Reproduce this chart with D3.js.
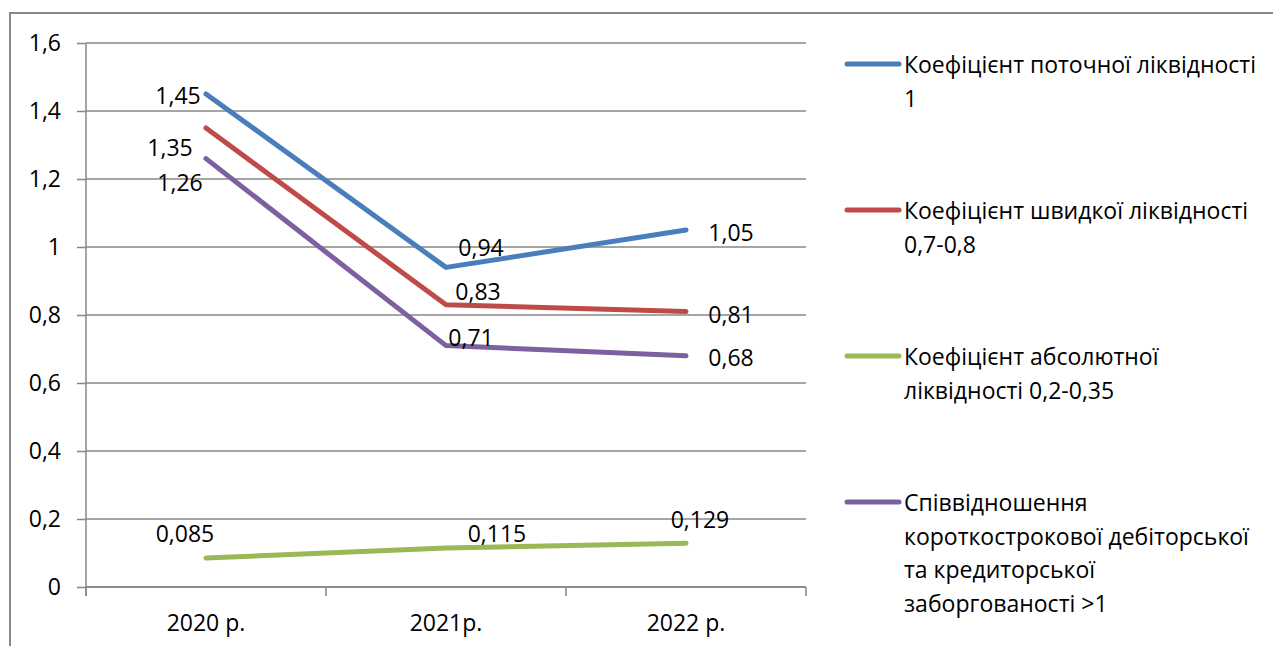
<!DOCTYPE html>
<html>
<head>
<meta charset="utf-8">
<script src="https://cdn.jsdelivr.net/npm/d3@7"></script>
<style>
  html, body { margin: 0; padding: 0; background: #fff; }
  svg { display: block; }
  text { font-family: "Open Sans", "Noto Sans", sans-serif; fill: #000; }
</style>
</head>
<body>
<svg id="chart" width="1273" height="646"></svg>
<script>
// Years on the horizontal axis
const categories = ["2020 р.", "2021р.", "2022 р."];

// Liquidity ratios per year
const currentRatio  = [1.45, 0.94, 1.05];
const quickRatio    = [1.35, 0.83, 0.81];
const absoluteRatio = [0.085, 0.115, 0.129];
const receivablesToPayables = [1.26, 0.71, 0.68];

// Value labels as printed
const currentLabels  = ["1,45", "0,94", "1,05"];
const quickLabels    = ["1,35", "0,83", "0,81"];
const absoluteLabels = ["0,085", "0,115", "0,129"];
const receivLabels   = ["1,26", "0,71", "0,68"];

// Y axis ticks
const yTicks = [0, 0.2, 0.4, 0.6, 0.8, 1, 1.2, 1.4, 1.6];

// Legend captions, broken into lines
const legendNames = [
  ["Коефіцієнт поточної ліквідності", "1"],
  ["Коефіцієнт швидкої ліквідності", "0,7-0,8"],
  ["Коефіцієнт абсолютної", "ліквідності 0,2-0,35"],
  ["Співвідношення", "короткострокової дебіторської", "та кредиторської", "заборгованості >1"]
];

const colors = ["#4A7EBB", "#BE4B48", "#98B954", "#7D60A0"];

// Label offsets from each point (layout only)
const labelOffsets = [
  [[-28, 1], [35, -20], [45, 2]],
  [[-36, 19], [32, -14], [45, 2]],
  [[-21, -25], [51, -15], [14, -24]],
  [[-26, 23], [25, -9], [45, 1]]
];

const series = [
  { values: currentRatio, labels: currentLabels },
  { values: quickRatio, labels: quickLabels },
  { values: absoluteRatio, labels: absoluteLabels },
  { values: receivablesToPayables, labels: receivLabels }
];

const svg = d3.select("#chart");
const FS = 23;
const gridColor = "#878787";

const plot = { left: 86, right: 806, top: 43, bottom: 587 };

const x = d3.scaleBand().domain(categories).range([plot.left, plot.right]);
const cx = c => x(c) + x.bandwidth() / 2;
const y = d3.scaleLinear().domain([0, 1.6]).range([plot.bottom, plot.top]);
const fmt = d3.formatLocale({ decimal: ",", thousands: " ", grouping: [3], currency: ["", ""] }).format("~g");

// Outer chart border (partially visible)
svg.append("path")
  .attr("d", `M10,646 L10,13 L1273,13`)
  .attr("fill", "none").attr("stroke", gridColor).attr("stroke-width", 2);

// Horizontal gridlines
svg.append("g").selectAll("line").data(yTicks).join("line")
  .attr("x1", plot.left).attr("x2", plot.right)
  .attr("y1", d => y(d)).attr("y2", d => y(d))
  .attr("stroke", gridColor).attr("stroke-width", 1.5);

// Y axis
const yAxis = svg.append("g").attr("transform", `translate(${plot.left},0)`)
  .call(d3.axisLeft(y).tickValues(yTicks).tickFormat(fmt).tickSize(9).tickPadding(16));
yAxis.select(".domain").attr("stroke", gridColor).attr("stroke-width", 1.5)
  .attr("d", `M0,${plot.top}V${plot.bottom + 9}`);
yAxis.selectAll(".tick line").attr("stroke", gridColor).attr("stroke-width", 1.5);
yAxis.selectAll(".tick text").attr("font-size", FS).attr("font-family", null);

// X axis: ticks at band edges
const xAxisG = svg.append("g").attr("transform", `translate(0,${plot.bottom})`);
xAxisG.append("line").attr("x1", plot.left).attr("x2", plot.right)
  .attr("stroke", gridColor).attr("stroke-width", 1.5);
const edges = categories.map(c => x(c)).concat([x(categories[categories.length - 1]) + x.bandwidth()]);
xAxisG.selectAll("line.edge").data(edges).join("line").attr("class", "edge")
  .attr("x1", d => d).attr("x2", d => d).attr("y1", 0).attr("y2", 9)
  .attr("stroke", gridColor).attr("stroke-width", 1.5);
xAxisG.selectAll("text").data(categories).join("text")
  .attr("x", d => cx(d)).attr("y", 35)
  .attr("text-anchor", "middle").attr("dominant-baseline", "central")
  .attr("font-size", FS).text(d => d);

// Lines
const line = d3.line().x((d, i) => cx(categories[i])).y(d => y(d));
svg.append("g").selectAll("path").data(series).join("path")
  .attr("d", s => line(s.values))
  .attr("fill", "none")
  .attr("stroke", (s, i) => colors[i])
  .attr("stroke-width", 5)
  .attr("stroke-linecap", "round")
  .attr("stroke-linejoin", "round");

// Value labels
series.forEach((s, si) => {
  svg.append("g").selectAll("text").data(s.values).join("text")
    .attr("x", (d, i) => cx(categories[i]) + labelOffsets[si][i][0])
    .attr("y", (d, i) => y(d) + labelOffsets[si][i][1])
    .attr("text-anchor", "middle").attr("dominant-baseline", "central")
    .attr("font-size", FS)
    .text((d, i) => s.labels[i]);
});

// Legend
const legendTop = [64, 210, 356, 502];
const lineH = 33.5;
const lg = svg.append("g");
legendNames.forEach((lines, i) => {
  const g = lg.append("g").attr("transform", `translate(0,${legendTop[i]})`);
  g.append("line").attr("x1", 847).attr("x2", 899).attr("y1", 0).attr("y2", 0)
    .attr("stroke", colors[i]).attr("stroke-width", 5).attr("stroke-linecap", "round");
  g.selectAll("text").data(lines).join("text")
    .attr("x", 904).attr("y", (d, j) => j * lineH)
    .attr("dominant-baseline", "central")
    .attr("font-size", FS).text(d => d);
});
</script>
</body>
</html>
